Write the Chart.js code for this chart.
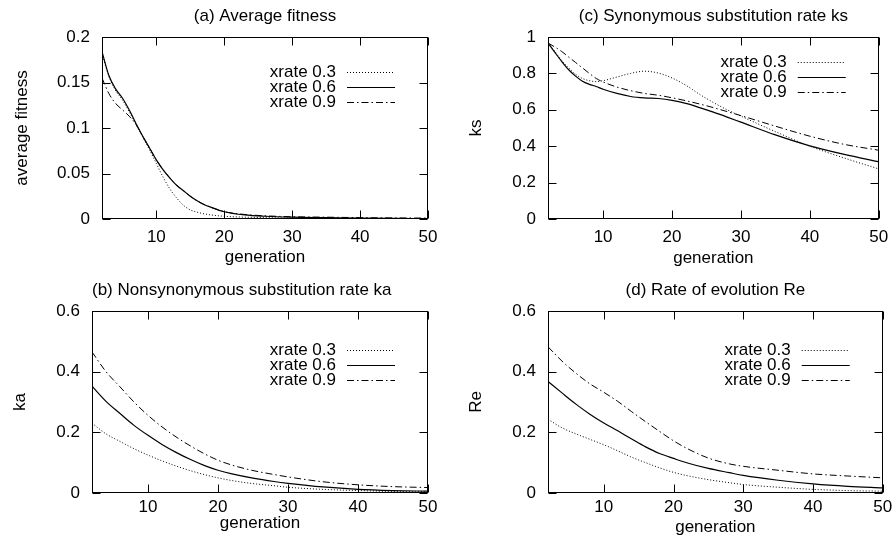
<!DOCTYPE html>
<html>
<head>
<meta charset="utf-8">
<script src="https://cdn.jsdelivr.net/npm/chart.js@4/dist/chart.umd.min.js"></script>
<style>
    html, body { margin: 0; padding: 0; background: #fff; }
    #wrap { position: relative; width: 896px; height: 541px; overflow: hidden; }
    #wrap canvas { position: absolute; }
</style>
</head>
<body>
<div id="wrap">
    <canvas id="panel-a" width="448" height="270" style="left:0;top:0"></canvas>
    <canvas id="panel-c" width="448" height="270" style="left:448px;top:0"></canvas>
    <canvas id="panel-b" width="448" height="271" style="left:0;top:270px"></canvas>
    <canvas id="panel-d" width="448" height="271" style="left:448px;top:270px"></canvas>
</div>
<script>
// legend labels, shared by every panel
const seriesLabels = ['xrate 0.3', 'xrate 0.6', 'xrate 0.9'];
const genTicks = [10, 20, 30, 40, 50];

// (a) average fitness
const genA = [2, 3, 4, 5, 6, 7, 8, 9, 10, 11, 12, 13, 14, 15, 16, 17, 18, 20, 23, 26, 30, 35, 40, 45, 50];
const fitness03 = [0.182, 0.157, 0.141, 0.131, 0.118, 0.104, 0.090, 0.076, 0.061, 0.046, 0.033, 0.023, 0.015, 0.010, 0.0075, 0.0058, 0.0045, 0.003, 0.002, 0.0015, 0.001, 0.0007, 0.0005, 0.0004, 0.0003];
const fitness06 = [0.184, 0.158, 0.143, 0.133, 0.120, 0.105, 0.091, 0.078, 0.065, 0.054, 0.045, 0.037, 0.031, 0.025, 0.020, 0.016, 0.013, 0.008, 0.0045, 0.003, 0.002, 0.0015, 0.001, 0.0007, 0.0005];
const fitness09 = [0.155, 0.138, 0.127, 0.120, 0.113, 0.104, 0.091, 0.078, 0.065, 0.054, 0.045, 0.037, 0.031, 0.025, 0.020, 0.016, 0.013, 0.008, 0.005, 0.0035, 0.0025, 0.002, 0.0015, 0.0012, 0.001];
const fitnessTicks = [0, 0.05, 0.1, 0.15, 0.2];

// (c) synonymous substitution rate ks
const genC = [2, 3, 4, 5, 6, 7, 8, 9, 10, 12, 14, 16, 18, 20, 22, 24, 26, 28, 30, 35, 40, 45, 50];
const ks03 = [0.967, 0.92, 0.87, 0.83, 0.795, 0.772, 0.76, 0.755, 0.76, 0.78, 0.8, 0.812, 0.802, 0.775, 0.735, 0.685, 0.64, 0.6, 0.565, 0.48, 0.4, 0.335, 0.275];
const ks06 = [0.967, 0.915, 0.865, 0.82, 0.785, 0.757, 0.74, 0.728, 0.713, 0.69, 0.673, 0.665, 0.662, 0.652, 0.635, 0.612, 0.587, 0.56, 0.532, 0.462, 0.402, 0.355, 0.315];
const ks09 = [0.967, 0.945, 0.92, 0.89, 0.86, 0.83, 0.8, 0.772, 0.753, 0.725, 0.705, 0.69, 0.68, 0.666, 0.65, 0.632, 0.612, 0.59, 0.568, 0.51, 0.455, 0.41, 0.378];
const ksTicks = [0, 0.2, 0.4, 0.6, 0.8, 1];

// (b) nonsynonymous substitution rate ka
const genB = [2, 4, 6, 8, 10, 12, 14, 16, 18, 20, 22, 25, 28, 30, 35, 40, 45, 50];
const ka03 = [0.23, 0.195, 0.17, 0.146, 0.125, 0.106, 0.089, 0.074, 0.061, 0.05, 0.041, 0.031, 0.024, 0.019, 0.012, 0.008, 0.005, 0.004];
const ka06 = [0.352, 0.302, 0.262, 0.223, 0.19, 0.16, 0.134, 0.111, 0.091, 0.075, 0.063, 0.049, 0.038, 0.032, 0.02, 0.012, 0.008, 0.006];
const ka09 = [0.465, 0.4, 0.35, 0.3, 0.256, 0.218, 0.185, 0.156, 0.13, 0.108, 0.092, 0.074, 0.061, 0.053, 0.037, 0.027, 0.021, 0.018];
const kaTicks = [0, 0.2, 0.4, 0.6];

// (d) rate of evolution Re
const genD = [2, 4, 6, 8, 10, 12, 14, 16, 18, 20, 22, 25, 28, 30, 35, 40, 45, 50];
const re03 = [0.243, 0.215, 0.195, 0.177, 0.159, 0.139, 0.118, 0.1, 0.083, 0.068, 0.057, 0.044, 0.034, 0.028, 0.019, 0.012, 0.008, 0.006];
const re06 = [0.368, 0.33, 0.293, 0.26, 0.231, 0.205, 0.178, 0.152, 0.13, 0.114, 0.099, 0.081, 0.067, 0.058, 0.042, 0.03, 0.022, 0.017];
const re09 = [0.482, 0.435, 0.395, 0.36, 0.332, 0.302, 0.268, 0.235, 0.203, 0.172, 0.146, 0.115, 0.096, 0.088, 0.075, 0.063, 0.056, 0.05];
const reTicks = [0, 0.2, 0.4, 0.6];

const FONT = 17;
const LINE_H = FONT * 1.2;
const dashes = [[1, 2], [], [7, 3, 1.5, 3]];

Chart.defaults.font.family = '"Liberation Sans", Arial, sans-serif';
Chart.defaults.font.size = FONT;
Chart.defaults.color = '#000';

// gnuplot look: closed frame, inward mirrored ticks, key at top right
const gnuplotFrame = {
    id: 'gnuplotFrame',
    afterDraw(chart, args, opts) {
        const {ctx, chartArea: a, scales: {x, y}} = chart;
        const left = Math.round(a.left) + 0.5;
        const right = Math.round(a.right) - 0.5;
        const top = Math.round(a.top) + 0.5;
        const bottom = Math.round(a.bottom) - 0.5;
        const tl = 8;
        ctx.save();
        ctx.strokeStyle = '#000';
        ctx.lineWidth = 1;
        ctx.setLineDash([]);
        ctx.strokeRect(left, top, right - left, bottom - top);
        ctx.beginPath();
        x.ticks.forEach(t => {
            const px = Math.round(x.getPixelForValue(t.value)) + 0.5;
            ctx.moveTo(px, bottom); ctx.lineTo(px, bottom - tl);
            ctx.moveTo(px, top); ctx.lineTo(px, top + tl);
        });
        y.ticks.forEach(t => {
            const py = Math.round(y.getPixelForValue(t.value)) + 0.5;
            ctx.moveTo(left, py); ctx.lineTo(left + tl, py);
            ctx.moveTo(right, py); ctx.lineTo(right - tl, py);
        });
        ctx.stroke();

        ctx.font = FONT + 'px "Liberation Sans", Arial, sans-serif';
        ctx.fillStyle = '#000';
        ctx.textAlign = 'right';
        ctx.textBaseline = 'middle';
        chart.data.datasets.forEach((ds, i) => {
            const rowY = opts.keyTop + i * 15;
            ctx.fillText(ds.label, a.right - 92, rowY);
            ctx.beginPath();
            ctx.lineWidth = ds.borderWidth;
            ctx.setLineDash(ds.borderDash);
            ctx.moveTo(a.right - 81, Math.round(rowY) + 0.5);
            ctx.lineTo(a.right - 33, Math.round(rowY) + 0.5);
            ctx.stroke();
        });
        ctx.restore();
    }
};

function buildPanel(id, p) {
    const canvas = document.getElementById(id);
    const W = canvas.width, H = canvas.height;
    const datasets = p.series.map((vals, i) => ({
        label: seriesLabels[i],
        data: p.gens.map((g, k) => ({x: g, y: vals[k]})),
        borderColor: '#000',
        borderWidth: i === 1 ? 1.2 : 1,
        borderDash: dashes[i],
        pointRadius: 0,
        fill: false,
        cubicInterpolationMode: 'monotone'
    }));

    new Chart(canvas, {
        type: 'line',
        data: {datasets},
        options: {
            responsive: false,
            animation: false,
            events: [],
            layout: {padding: {left: 0, top: 0, right: W - p.right, bottom: 0}},
            plugins: {
                legend: {display: false},
                tooltip: {enabled: false},
                title: {
                    display: true,
                    text: p.title,
                    fullSize: false,
                    align: p.titleAlign || 'center',
                    font: {size: FONT, weight: 'normal'},
                    padding: {top: p.titleY - LINE_H / 2, bottom: p.top - p.titleY - LINE_H / 2}
                },
                gnuplotFrame: {keyTop: p.keyTop}
            },
            scales: {
                x: {
                    type: 'linear',
                    min: 2,
                    max: 50,
                    grid: {display: false, drawTicks: false},
                    border: {display: false},
                    afterBuildTicks: s => { s.ticks = genTicks.map(v => ({value: v})); },
                    afterFit: s => { s.height = H - p.bottom; },
                    ticks: {padding: p.xTickY - p.bottom - LINE_H / 2, maxRotation: 0, callback: v => String(v)},
                    title: {display: true, text: 'generation', padding: {top: 0, bottom: H - p.xTitleY - LINE_H / 2}}
                },
                y: {
                    type: 'linear',
                    min: p.yTicks[0],
                    max: p.yTicks[p.yTicks.length - 1],
                    grid: {display: false, drawTicks: false},
                    border: {display: false},
                    afterBuildTicks: s => { s.ticks = p.yTicks.map(v => ({value: v})); },
                    afterFit: s => { s.width = p.left; },
                    ticks: {padding: 12, callback: v => String(v)},
                    title: {display: true, text: p.yLabel, padding: {top: p.yTitleX - LINE_H / 2, bottom: 0}}
                }
            }
        },
        plugins: [gnuplotFrame]
    });
}

buildPanel('panel-a', {
    title: '(a) Average fitness', yLabel: 'average fitness',
    gens: genA, series: [fitness03, fitness06, fitness09], yTicks: fitnessTicks,
    left: 102, top: 37, right: 428, bottom: 219,
    titleY: 16, xTickY: 237, xTitleY: 257, yTitleX: 22, keyTop: 72
});
buildPanel('panel-c', {
    title: '(c) Synonymous substitution rate ks', yLabel: 'ks',
    gens: genC, series: [ks03, ks06, ks09], yTicks: ksTicks,
    left: 100, top: 37, right: 435, bottom: 219,
    titleY: 16, xTickY: 237, xTitleY: 258, yTitleX: 28, keyTop: 62
});
buildPanel('panel-b', {
    title: '(b) Nonsynonymous substitution rate ka', titleAlign: 'start', yLabel: 'ka',
    gens: genB, series: [ka03, ka06, ka09], yTicks: kaTicks,
    left: 92, top: 41, right: 428, bottom: 223,
    titleY: 20, xTickY: 237, xTitleY: 253, yTitleX: 20, keyTop: 80
});
buildPanel('panel-d', {
    title: '(d) Rate of evolution Re', yLabel: 'Re',
    gens: genD, series: [re03, re06, re09], yTicks: reTicks,
    left: 100, top: 41, right: 436, bottom: 223,
    titleY: 20, xTickY: 237, xTitleY: 257, yTitleX: 28, keyTop: 80
});
</script>
</body>
</html>
